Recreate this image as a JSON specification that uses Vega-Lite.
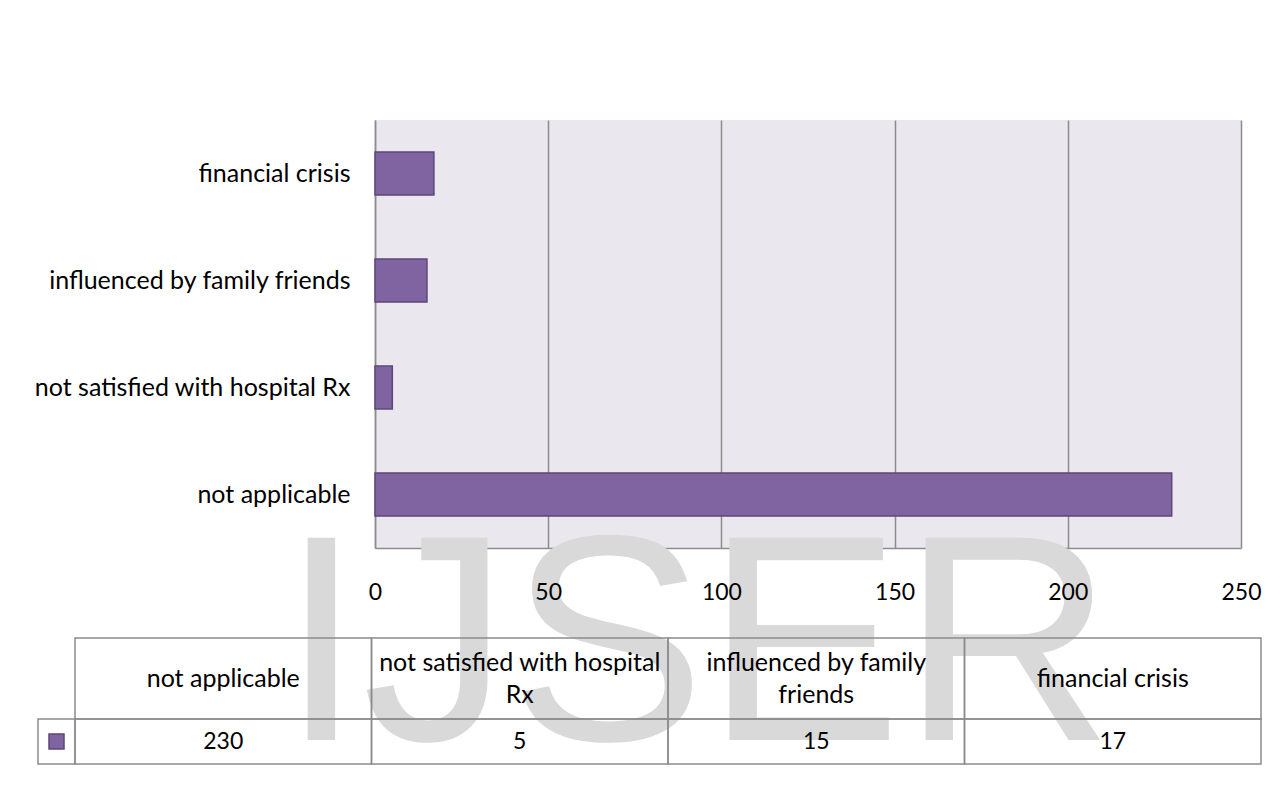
{
  "$schema": "https://vega.github.io/schema/vega-lite/v6.json",
  "autosize": {"type": "pad"},
  "padding": {"left": 33, "top": 120, "right": 0, "bottom": 0},
  "background": "white",
  "data": {"values": [
    {"reason": "not applicable", "header": ["not applicable"], "count": 230},
    {"reason": "not satisfied with hospital Rx", "header": ["not satisfied with hospital", "Rx"], "count": 5},
    {"reason": "influenced by family friends", "header": ["influenced by family", "friends"], "count": 15},
    {"reason": "financial crisis", "header": ["financial crisis"], "count": 17}
  ]},
  "bounds": "flush",
  "spacing": 0,
  "vconcat": [
    {
      "width": 866,
      "height": 428,
      "view": {"fill": "#EAE7EE", "stroke": null},
      "mark": {"type": "bar", "fill": "#8064A2", "stroke": "#5C4776", "strokeWidth": 1.5},
      "encoding": {
        "y": {
          "field": "reason", "type": "nominal",
          "sort": ["financial crisis", "influenced by family friends", "not satisfied with hospital Rx", "not applicable"],
          "scale": {"paddingInner": 0.6, "paddingOuter": 0.3},
          "axis": {"title": null, "ticks": false, "labelPadding": 25, "labelFontSize": 25, "labelFont": "Lato", "labelColor": "#000000", "labelLimit": 0, "domainColor": "#8C8C8C", "domainWidth": 1.5, "grid": false}
        },
        "x": {
          "field": "count", "type": "quantitative",
          "scale": {"domain": [0, 250], "nice": false},
          "axis": {"title": null, "values": [0, 50, 100, 150, 200, 250], "labels": false, "ticks": false, "grid": true, "gridColor": "#8C8C8C", "gridWidth": 1.5, "gridOpacity": 1, "domainColor": "#8C8C8C", "domainWidth": 1.5}
        }
      }
    },
    {
      "width": 866,
      "height": 90,
      "data": {"values": [{"watermark": "IJSER"}]},
      "mark": {"type": "text", "font": "Liberation Sans", "fontSize": 294, "fill": "#D9D9D9", "align": "center", "baseline": "alphabetic", "dy": 147},
      "encoding": {
        "text": {"field": "watermark"},
        "x": {
          "datum": 93, "type": "quantitative",
          "scale": {"domain": [0, 250], "nice": false},
          "axis": {"orient": "top", "title": null, "values": [0, 50, 100, 150, 200, 250], "labelFlush": false, "labelOverlap": false, "offset": -44, "labelBaseline": "middle", "labelPadding": 0, "ticks": false, "tickSize": 0, "domain": false, "grid": false, "zindex": 1, "labelFontSize": 23, "labelFont": "Lato", "labelColor": "#000000"}
        }
      }
    },
    {
      "width": 886,
      "height": 81,
      "layer": [
        {
          "mark": {"type": "rect", "fill": "white", "fillOpacity": 0, "stroke": "#8C8C8C", "strokeWidth": 1.5},
          "encoding": {"x": {"field": "reason", "type": "nominal", "sort": ["not applicable", "not satisfied with hospital Rx", "influenced by family friends", "financial crisis"], "scale": {"range": [-300, 886], "paddingInner": 0, "paddingOuter": 0}, "axis": null}}
        },
        {
          "transform": [{"filter": "length(datum.header) == 1"}],
          "mark": {"type": "text", "font": "Lato", "fontSize": 25, "fill": "#000000", "baseline": "middle", "align": "center"},
          "encoding": {
            "x": {"field": "reason", "type": "nominal", "sort": ["not applicable", "not satisfied with hospital Rx", "influenced by family friends", "financial crisis"], "scale": {"range": [-300, 886], "paddingInner": 0, "paddingOuter": 0}, "axis": null},
            "text": {"field": "header"}
          }
        },
        {
          "transform": [{"filter": "length(datum.header) == 2"}],
          "mark": {"type": "text", "font": "Lato", "fontSize": 25, "fill": "#000000", "lineHeight": 32, "baseline": "middle", "align": "center", "dy": -16},
          "encoding": {
            "x": {"field": "reason", "type": "nominal", "sort": ["not applicable", "not satisfied with hospital Rx", "influenced by family friends", "financial crisis"], "scale": {"range": [-300, 886], "paddingInner": 0, "paddingOuter": 0}, "axis": null},
            "text": {"field": "header"}
          }
        }
      ]
    },
    {
      "width": 886,
      "height": 45,
      "layer": [
        {
          "mark": {"type": "rect", "fill": "white", "fillOpacity": 0, "stroke": "#8C8C8C", "strokeWidth": 1.5},
          "encoding": {"x": {"field": "reason", "type": "nominal", "sort": null, "scale": {"range": [-300, 886], "paddingInner": 0, "paddingOuter": 0}, "axis": null}}
        },
        {
          "mark": {"type": "text", "font": "Lato", "fontSize": 23, "fill": "#000000", "baseline": "middle", "align": "center"},
          "encoding": {
            "x": {"field": "reason", "type": "nominal", "sort": null, "scale": {"range": [-300, 886], "paddingInner": 0, "paddingOuter": 0}, "axis": null},
            "text": {"field": "count", "type": "quantitative"}
          }
        },
        {
          "data": {"values": [{"series": "count"}]},
          "mark": {"type": "rect", "fill": "white", "fillOpacity": 0, "stroke": "#8C8C8C", "strokeWidth": 1.5},
          "encoding": {"x": {"field": "series", "type": "nominal", "scale": {"range": [-337, -300], "paddingInner": 0, "paddingOuter": 0}, "axis": null}}
        },
        {
          "data": {"values": [{"series": "count"}]},
          "mark": {"type": "point", "shape": "square", "size": 225, "filled": true, "fill": "#8064A2", "stroke": "#5C4776", "strokeWidth": 1.5, "opacity": 1},
          "encoding": {"x": {"field": "series", "type": "nominal", "scale": {"range": [-337, -300], "paddingInner": 0, "paddingOuter": 0}, "axis": null}}
        }
      ],
      "resolve": {"scale": {"x": "independent"}}
    }
  ],
  "config": {"view": {"stroke": null}, "font": "Lato", "axis": {"labelFont": "Lato"}}
}
